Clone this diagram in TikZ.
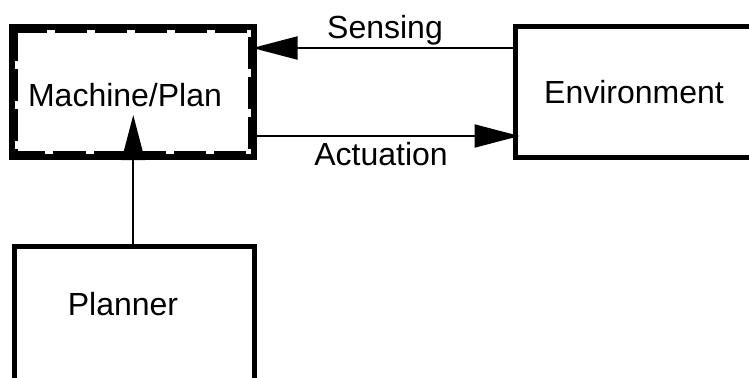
\documentclass[tikz,border=0pt]{standalone}
\usepackage{fontspec}
\setmainfont{Liberation Sans}
\usetikzlibrary{arrows.meta}

\begin{document}
\begin{tikzpicture}[x=1bp, y=-1bp,
        box/.style={draw, rectangle, line width=5bp, inner sep=0pt, outer sep=0pt},
        txt/.style={font=\fontsize{32bp}{38bp}\selectfont, inner sep=0pt, anchor=base},
        flow/.style={line width=2bp, -{Triangle[length=45bp,width=23bp]}}]
\useasboundingbox (0,0) rectangle (749,377);

% the three blocks
\node[box, line width=9bp, minimum width=238.5bp, minimum height=127.5bp]
    (machine) at (133.25,91.75) {};
% broken inner edge of the machine frame
\draw[white, line width=3bp, dash pattern=on 8bp off 32bp, dash phase=-30bp]
    ([shift={(3,3)}]machine.north west) rectangle ([shift={(-3,-3)}]machine.south east);
\node[txt, xshift=-8.25bp, yshift=-14.25bp] (mtext) at (machine.center) {Machine/Plan};

\node[box, minimum width=237bp, minimum height=131bp] (env) at (634,92) {};
\node[txt, yshift=-11bp] (etext) at (env.center) {Environment};

\node[box, minimum width=240bp, minimum height=133.5bp] (planner) at (134.5,313.25) {};
\node[txt, xshift=-11.5bp, yshift=-1.75bp] (ptext) at (planner.center) {Planner};

% signal levels
\coordinate (sense) at (0,48);
\coordinate (act) at (0,136);

\draw[flow] (env.west |- sense) -- (machine.east |- sense)
    node[txt, midway, xshift=1bp, yshift=10bp] (slabel) {Sensing};
\draw[flow, shorten >=-4bp] (machine.east |- act) -- (env.west |- act)
    node[txt, midway, xshift=-3bp, yshift=-29bp] (alabel) {Actuation};
\draw[flow, shorten >=-40.5bp] (machine.south |- planner.north) -- (machine.south);

\end{tikzpicture}
\end{document}
